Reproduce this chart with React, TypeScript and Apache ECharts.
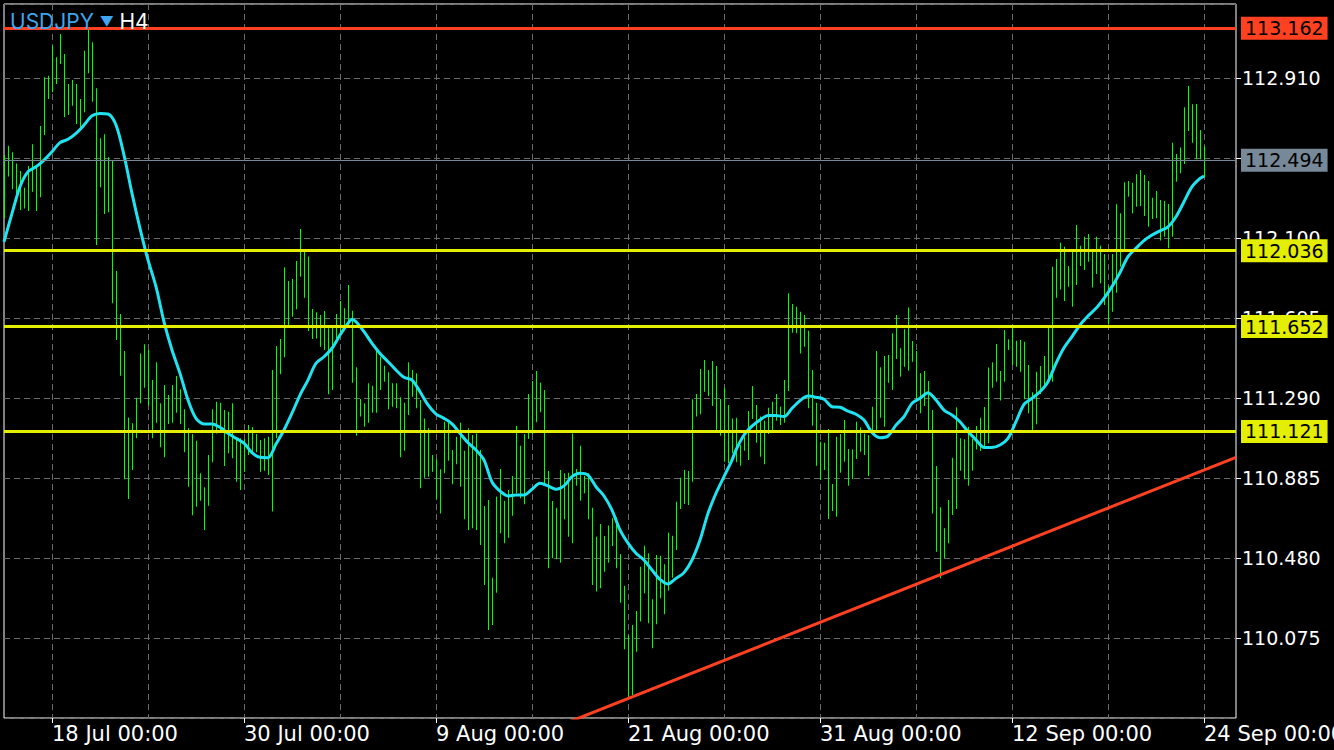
import React, { useEffect, useRef } from 'react';
import * as echarts from 'echarts';

// ---------- data ----------
const symbolName = 'USDJPY';
const timeframe = 'H4';

// H4 bars: highs and lows (bar index 0..300)
const highs = [
  112.520, 112.567, 112.534, 112.478, 112.439, 112.355, 112.465, 112.575, 112.461, 112.667,
  112.914, 112.922, 113.074, 113.015, 113.133, 113.032, 112.880, 112.900, 112.880, 112.804,
  113.048, 113.153, 113.091, 112.858, 112.605, 112.625, 112.509, 112.490, 111.933, 111.715,
  111.528, 111.192, 111.162, 111.292, 111.516, 111.562, 111.533, 111.381, 111.471, 111.263,
  111.356, 111.305, 111.356, 111.402, 111.334, 111.233, 111.137, 111.108, 111.074, 110.909,
  110.838, 111.002, 111.233, 111.271, 111.266, 111.229, 111.221, 111.263, 111.078, 111.086,
  111.081, 111.153, 111.142, 111.108, 111.078, 111.086, 111.094, 111.432, 111.553, 111.589,
  111.952, 111.882, 111.893, 111.984, 112.146, 112.031, 112.006, 111.741, 111.724, 111.710,
  111.731, 111.643, 111.648, 111.715, 111.781, 111.744, 111.862, 111.732, 111.446, 111.285,
  111.263, 111.365, 111.352, 111.528, 111.499, 111.454, 111.420, 111.365, 111.365, 111.294,
  111.266, 111.471, 111.432, 111.415, 111.280, 111.187, 111.137, 111.002, 110.980, 110.929,
  111.170, 111.165, 111.027, 111.094, 111.165, 111.023, 111.137, 111.103, 111.111, 111.027,
  110.743, 110.774, 110.380, 110.791, 110.931, 110.770, 110.824, 110.895, 111.150, 111.049,
  111.108, 111.310, 111.376, 111.427, 111.368, 111.331, 110.921, 110.769, 110.735, 110.926,
  110.909, 110.912, 111.111, 110.931, 111.049, 110.897, 110.909, 110.735, 110.588, 110.652,
  110.592, 110.644, 110.681, 110.686, 110.500, 110.340, 110.090, 110.141, 110.212, 110.436,
  110.542, 110.504, 110.271, 110.495, 110.492, 110.448, 110.608, 110.593, 110.765, 110.887,
  110.926, 110.921, 111.284, 111.310, 111.437, 111.483, 111.432, 111.477, 111.452, 111.285,
  111.342, 111.255, 111.187, 111.190, 111.052, 111.094, 111.224, 111.351, 111.255, 111.196,
  111.175, 111.241, 111.271, 111.310, 111.246, 111.381, 111.820, 111.766, 111.752, 111.727,
  111.710, 111.631, 111.432, 111.266, 111.069, 111.064, 111.133, 110.855, 111.094, 111.108,
  111.179, 111.032, 111.030, 111.170, 111.142, 111.111, 111.103, 111.246, 111.528, 111.446,
  111.503, 111.508, 111.618, 111.710, 111.542, 111.638, 111.749, 111.579, 111.528, 111.415,
  111.427, 111.376, 111.229, 110.946, 110.737, 110.631, 110.774, 110.988, 111.243, 111.086,
  111.081, 111.145, 111.083, 111.148, 111.190, 111.245, 111.444, 111.471, 111.564, 111.427,
  111.634, 111.587, 111.643, 111.580, 111.584, 111.575, 111.457, 111.319, 111.423, 111.452,
  111.503, 111.646, 111.955, 111.994, 112.076, 112.056, 111.958, 112.031, 112.166, 112.061,
  112.107, 112.120, 112.031, 112.107, 112.061, 112.019, 111.857, 112.019, 112.271, 112.225,
  112.382, 112.389, 112.380, 112.423, 112.444, 112.419, 112.389, 112.304, 112.338, 112.293,
  112.287, 112.272, 112.583, 112.525, 112.559, 112.762, 112.870, 112.777, 112.779, 112.647,
  112.566,
];

const lows = [
  112.201, 112.411, 112.347, 112.284, 112.242, 112.249, 112.237, 112.335, 112.237, 112.306,
  112.622, 112.804, 112.838, 112.880, 112.981, 112.711, 112.723, 112.770, 112.677, 112.656,
  112.737, 112.934, 112.790, 112.065, 112.357, 112.222, 112.230, 111.770, 111.584, 111.403,
  110.879, 110.779, 110.926, 111.086, 111.263, 111.342, 111.250, 111.086, 111.165, 111.041,
  110.990, 111.159, 111.165, 111.216, 111.159, 111.015, 110.841, 110.696, 110.740, 110.770,
  110.622, 110.745, 110.965, 111.111, 111.120, 110.946, 111.010, 110.985, 110.866, 110.824,
  110.917, 111.002, 111.015, 111.015, 110.917, 110.922, 110.900, 110.715, 111.086, 111.410,
  111.496, 111.655, 111.702, 111.739, 111.904, 111.798, 111.629, 111.589, 111.592, 111.550,
  111.533, 111.309, 111.331, 111.592, 111.618, 111.634, 111.663, 111.368, 111.099, 111.196,
  111.145, 111.165, 111.216, 111.216, 111.331, 111.373, 111.233, 111.246, 111.238, 110.990,
  111.023, 111.204, 111.297, 111.238, 110.833, 110.887, 110.892, 110.917, 110.777, 110.706,
  110.909, 110.973, 110.853, 110.955, 110.841, 110.676, 110.622, 110.631, 110.622, 110.546,
  110.343, 110.116, 110.141, 110.304, 110.605, 110.555, 110.583, 110.694, 110.808, 110.782,
  110.752, 111.083, 111.108, 111.167, 111.218, 110.858, 110.428, 110.479, 110.474, 110.456,
  110.676, 110.588, 110.555, 110.846, 110.770, 110.808, 110.676, 110.343, 110.310, 110.327,
  110.411, 110.456, 110.541, 110.428, 110.254, 110.018, 109.778, 109.787, 110.006, 110.158,
  110.301, 110.150, 110.023, 110.145, 110.276, 110.195, 110.315, 110.380, 110.521, 110.728,
  110.754, 110.748, 110.866, 111.196, 111.208, 111.322, 111.300, 111.250, 111.120, 111.099,
  110.968, 110.960, 111.010, 110.965, 110.947, 111.023, 110.976, 111.184, 111.064, 110.993,
  110.955, 111.108, 111.128, 111.175, 111.153, 111.165, 111.326, 111.621, 111.618, 111.516,
  111.550, 111.238, 111.150, 110.947, 110.875, 110.926, 110.678, 110.718, 110.689, 110.912,
  110.968, 110.846, 110.880, 110.981, 111.018, 111.002, 110.895, 111.103, 111.128, 111.190,
  111.145, 111.368, 111.331, 111.488, 111.398, 111.449, 111.428, 111.474, 111.271, 111.213,
  111.250, 111.128, 110.706, 110.512, 110.377, 110.479, 110.555, 110.698, 110.728, 110.922,
  110.879, 110.846, 110.922, 111.030, 111.022, 111.032, 111.061, 111.342, 111.373, 111.277,
  111.373, 111.533, 111.457, 111.449, 111.423, 111.284, 111.213, 111.128, 111.157, 111.310,
  111.356, 111.373, 111.373, 111.798, 111.840, 111.781, 111.854, 111.752, 111.862, 111.958,
  111.938, 111.980, 111.849, 111.918, 111.871, 111.761, 111.665, 111.727, 111.823, 111.955,
  112.039, 112.309, 112.225, 112.259, 112.262, 112.212, 112.157, 112.196, 112.200, 112.087,
  112.107, 112.048, 112.107, 112.385, 112.428, 112.475, 112.642, 112.583, 112.499, 112.499,
  112.407,
];

// moving average, read at these bars
const maBars = [
  0, 2, 4, 6, 8, 10, 12, 14, 16, 18, 20, 22, 24, 26, 28, 30, 32, 34, 36, 38,
  40, 42, 44, 46, 48, 50, 52, 54, 56, 58, 60, 62, 64, 66, 68, 70, 72, 74, 76, 78,
  80, 82, 84, 86, 87, 88, 90, 92, 94, 96, 98, 100, 102, 104, 106, 108, 110, 112, 114, 116,
  118, 120, 122, 124, 126, 128, 130, 132, 134, 136, 138, 140, 142, 144, 146, 148, 150, 152, 154, 156,
  158, 160, 162, 164, 166, 168, 170, 172, 174, 176, 178, 180, 182, 183, 185, 187, 189, 191, 193, 195,
  197, 199, 201, 203, 205, 207, 209, 211, 213, 215, 217, 219, 221, 223, 225, 227, 229, 231, 233, 235,
  237, 239, 241, 243, 245, 247, 249, 251, 253, 255, 257, 259, 261, 263, 265, 267, 269, 271, 273, 275,
  277, 279, 281, 283, 285, 287, 289, 291, 293, 295, 297, 299, 300,
];
const maValues = [
  112.081, 112.225, 112.360, 112.436, 112.461, 112.495, 112.537, 112.583, 112.600, 112.630,
  112.672, 112.719, 112.731, 112.728, 112.672, 112.520, 112.326, 112.149, 111.989, 111.854,
  111.676, 111.533, 111.415, 111.280, 111.187, 111.159, 111.159, 111.142, 111.111, 111.086,
  111.062, 111.013, 110.990, 110.988, 111.057, 111.128, 111.213, 111.305, 111.381, 111.466,
  111.499, 111.542, 111.609, 111.668, 111.689, 111.676, 111.626, 111.567, 111.516, 111.474,
  111.432, 111.395, 111.381, 111.322, 111.255, 111.209, 111.187, 111.159, 111.111, 111.064,
  111.027, 110.976, 110.865, 110.819, 110.794, 110.799, 110.799, 110.828, 110.858, 110.845,
  110.828, 110.845, 110.892, 110.909, 110.900, 110.841, 110.794, 110.723, 110.622, 110.555,
  110.504, 110.470, 110.419, 110.372, 110.349, 110.377, 110.406, 110.470, 110.571, 110.706,
  110.808, 110.892, 110.976, 111.027, 111.103, 111.148, 111.179, 111.201, 111.201, 111.196,
  111.238, 111.277, 111.300, 111.294, 111.284, 111.246, 111.243, 111.224, 111.208, 111.179,
  111.115, 111.089, 111.098, 111.153, 111.196, 111.263, 111.289, 111.317, 111.280, 111.229,
  111.204, 111.170, 111.120, 111.078, 111.040, 111.039, 111.052, 111.086, 111.170, 111.258,
  111.289, 111.322, 111.373, 111.466, 111.545, 111.601, 111.660, 111.705, 111.744, 111.795,
  111.854, 111.925, 112.006, 112.048, 112.087, 112.115, 112.136, 112.157, 112.208, 112.284,
  112.360, 112.402, 112.414,
];

// time axis labels and the bars they sit on
const timeLabels = ['18 Jul 00:00', '30 Jul 00:00', '9 Aug 00:00', '21 Aug 00:00', '31 Aug 00:00', '12 Sep 00:00', '24 Sep 00:00'];
const timeLabelBars = [12, 60, 108, 156, 204, 252, 300];
const gridStepBars = 24;
const slotCount = 309; // bars plus the empty shift on the right

// price axis
const priceMin = 109.670;
const priceMax = 113.285;
const priceStep = 0.405;

// horizontal levels
const levelValues = [113.162, 112.036, 111.652, 111.121];
const currentPrice = 112.494;

// trend line anchors
const trendBars = [140, 308];
const trendPrices = [109.640, 110.990];

// ---------- styles ----------
const FONT = '"DejaVu Sans", "Noto Sans", sans-serif';
const TITLE_FONT = 'Inter, "Noto Sans", sans-serif';
const RED = '#ff4122';
const YELLOW = '#e4ee00';
const GRAY = '#778899';
const GREEN = '#00ff00';
const levelColors = [RED, YELLOW, YELLOW, YELLOW];

export default function App() {
  const ref = useRef<HTMLDivElement>(null);

  useEffect(() => {
    if (!ref.current) return;
    const chart = echarts.init(ref.current, undefined, { renderer: 'svg' });

    const slots: string[] = [];
    for (let i = 0; i < slotCount; i++) {
      const k = timeLabelBars.indexOf(i);
      slots.push(k >= 0 ? timeLabels[k] : '');
    }
    const isLabelSlot = (i: number) => timeLabelBars.indexOf(i) >= 0;
    const first = timeLabelBars[0];
    const isGridSlot = (i: number) => i >= first && (i - first) % gridStepBars === 0;

    const barData = highs.map((h, i) => [i, lows[i], h]);
    const maData = maBars.map((b, i) => [b, maValues[i]]);
    const trendData = trendBars.map((b, i) => [b, trendPrices[i]]);

    const levelLines: any[] = levelValues.map((v, i) => ({
      yAxis: v,
      lineStyle: { color: levelColors[i], width: 3, type: 'solid' },
      label: { backgroundColor: levelColors[i] },
    }));
    levelLines.push({
      yAxis: currentPrice,
      lineStyle: { color: GRAY, width: 1, type: 'solid' },
      label: { backgroundColor: GRAY },
    });

    const dash = { color: '#6a6a6a', width: 1, type: [6, 4] as any };

    chart.setOption({
      animation: false,
      backgroundColor: '#000',
      textStyle: { fontFamily: FONT },
      title: {
        text: `{s|${symbolName}} {a|▼} {t|${timeframe}}`,
        left: 5,
        top: 6,
        textStyle: {
          fontWeight: 'normal',
          rich: {
            s: { color: '#3ea6ee', fontSize: 21, fontWeight: 'normal', fontFamily: TITLE_FONT },
            a: { color: '#3ea6ee', fontSize: 14, fontWeight: 'normal', fontFamily: TITLE_FONT },
            t: { color: '#ffffff', fontSize: 21, fontWeight: 'normal', fontFamily: TITLE_FONT },
          },
        },
      },
      grid: {
        left: 4,
        right: 98,
        top: 4,
        bottom: 32,
        containLabel: false,
        outerBoundsMode: 'none',
        show: true,
        borderColor: '#ffffff',
        borderWidth: 1,
      },
      xAxis: {
        type: 'category',
        data: slots,
        boundaryGap: false,
        axisLine: { show: false },
        axisTick: { show: true, interval: (i: number) => isLabelSlot(i), length: 5, lineStyle: { color: '#fff' } },
        axisLabel: {
          interval: (i: number) => isLabelSlot(i),
          align: 'left',
          color: '#fff',
          fontSize: 21,
          fontFamily: FONT,
          margin: 5,
        },
        splitLine: { show: true, interval: (i: number) => isGridSlot(i), lineStyle: dash },
      },
      yAxis: {
        type: 'value',
        position: 'right',
        min: priceMin,
        max: priceMax,
        interval: priceStep,
        scale: true,
        axisLine: { show: false },
        axisTick: { show: true, length: 5, lineStyle: { color: '#fff' } },
        axisLabel: {
          color: '#fff',
          fontSize: 19,
          fontFamily: FONT,
          margin: 6,
          showMinLabel: false,
          showMaxLabel: false,
          formatter: (v: number) => v.toFixed(3),
        },
        splitLine: { show: true, lineStyle: dash },
      },
      series: [
        {
          type: 'custom',
          name: 'bars',
          z: 2,
          clip: true,
          data: barData,
          encode: { x: 0, y: [1, 2] },
          renderItem: (_params: any, api: any) => {
            const lo = api.coord([api.value(0), api.value(1)]);
            const hi = api.coord([api.value(0), api.value(2)]);
            const x = Math.round(lo[0]);
            return {
              type: 'rect',
              shape: { x: x, y: hi[1], width: 1, height: Math.max(1, lo[1] - hi[1]) },
              style: { fill: GREEN, stroke: null },
            };
          },
        },
        {
          type: 'line',
          name: 'trend',
          z: 3,
          data: trendData,
          showSymbol: false,
          clip: true,
          lineStyle: { color: RED, width: 3 },
          markLine: {
            silent: true,
            symbol: 'none',
            animation: false,
            precision: 3,
            label: {
              show: true,
              position: 'end',
              distance: 5,
              color: '#000',
              fontSize: 19,
              lineHeight: 19,
              fontFamily: FONT,
              padding: [2, 4, 2, 4],
              formatter: (p: any) => Number(p.value).toFixed(3),
            },
            data: levelLines,
          },
        },
        {
          type: 'line',
          name: 'ma',
          z: 4,
          data: maData,
          showSymbol: false,
          smooth: 0.3,
          lineStyle: { color: '#1fe3f0', width: 3 },
        },
      ],
    });

    return () => chart.dispose();
  }, []);

  return (
    <div
      ref={ref}
      style={{ position: 'fixed', left: 0, top: 0, width: 1334, height: 750 }}
    />
  );
}
